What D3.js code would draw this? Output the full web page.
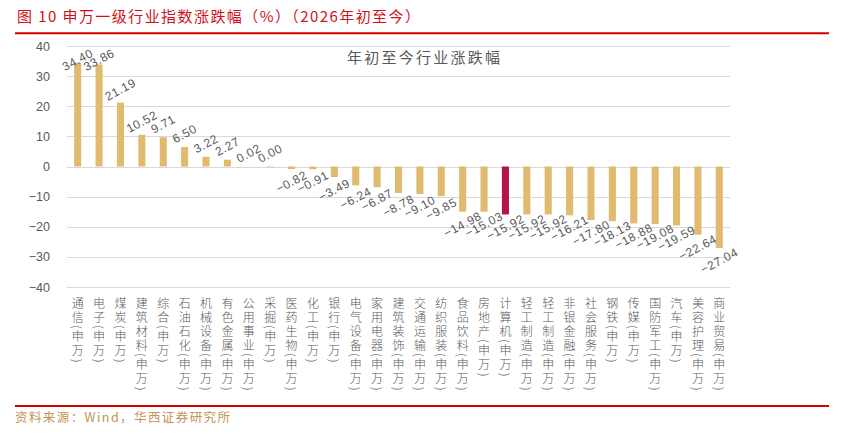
<!DOCTYPE html>
<html><head><meta charset="utf-8">
<script src="https://cdn.jsdelivr.net/npm/d3@7"></script>
<style>
body{margin:0;background:#fff;}
svg{display:block;}
</style></head>
<body>
<svg id="c" width="850" height="434"></svg>
<script>
const categories = ["通信","电子","煤炭","建筑材料","综合","石油石化","机械设备","有色金属","公用事业","采掘","医药生物","化工","银行","电气设备","家用电器","建筑装饰","交通运输","纺织服装","食品饮料","房地产","计算机","轻工制造","轻工制造","非银金融","社会服务","钢铁","传媒","国防军工","汽车","美容护理","商业贸易"];
const values = [34.40,33.86,21.19,10.52,9.71,6.50,3.22,2.27,0.02,0.00,-0.82,-0.91,-3.49,-6.24,-6.87,-8.78,-9.10,-9.85,-14.98,-15.03,-15.92,-15.92,-15.92,-16.21,-17.80,-18.13,-18.88,-19.08,-19.59,-22.64,-27.04];
const highlight = ["计算机"];
const yTicks = [40,30,20,10,0,-10,-20,-30,-40];
const titleText = "图 10 申万一级行业指数涨跌幅（%）（2026年初至今）";
const chartTitle = "年初至今行业涨跌幅";
const sourceText = "资料来源：Wind，华西证券研究所";
const suffix = "(申万)";

const svg = d3.select("#c");
const L = 67, R = 730, T = 46, B = 287;
const x = d3.scaleBand().domain(d3.range(categories.length)).range([L, R]).paddingInner(0.67).paddingOuter(0.335);
const y = d3.scaleLinear().domain([-40, 40]).range([B, T]);
const gold = "#E0BB6F", crimson = "#B3124A", grey = "#595959";
const fmtNum = (d, p) => (d < 0 ? "\u2212" : "") + Math.abs(d).toFixed(p);

// header
svg.append("text").attr("x", 17).attr("y", 22).attr("fill", "#D0101A")
  .attr("font-family", "'Noto Sans CJK SC'").attr("font-size", 15)
  .attr("textLength", 403).attr("lengthAdjust", "spacing").text(titleText);
svg.append("line").attr("x1", 15).attr("x2", 829).attr("y1", 33.3).attr("y2", 33.3)
  .attr("stroke", "#D40000").attr("stroke-width", 2);
svg.append("line").attr("x1", 15).attr("x2", 829).attr("y1", 406).attr("y2", 406)
  .attr("stroke", "#D40000").attr("stroke-width", 2);
svg.append("text").attr("x", 15).attr("y", 422).attr("fill", "#C39356")
  .attr("font-family", "'Noto Sans CJK SC'").attr("font-size", 12.5)
  .attr("textLength", 215).attr("lengthAdjust", "spacing").text(sourceText);

// gridlines
svg.append("g").selectAll("line").data(yTicks).join("line")
  .attr("x1", L).attr("x2", R).attr("y1", d => Math.round(y(d)) + 0.5).attr("y2", d => Math.round(y(d)) + 0.5)
  .attr("stroke", "#D9D9D9").attr("stroke-width", 1);

// y axis
const ya = svg.append("g").attr("transform", `translate(${L},0)`)
  .call(d3.axisLeft(y).tickValues(yTicks).tickSize(0).tickPadding(17).tickFormat(d => fmtNum(d, 0)));
ya.select(".domain").remove();
ya.selectAll("text").attr("font-family", "Arial, 'Liberation Sans'").attr("font-size", 12.5).attr("fill", grey);

// chart title
svg.append("text").attr("x", 347).attr("y", 63).attr("fill", grey)
  .attr("font-family", "'Noto Sans CJK SC'").attr("font-size", 15)
  .attr("textLength", 153).attr("lengthAdjust", "spacing").text(chartTitle);

// bars
svg.append("g").selectAll("rect").data(values).join("rect")
  .attr("x", (d, i) => x(i)).attr("width", x.bandwidth())
  .attr("y", d => y(Math.max(0, d))).attr("height", d => Math.max(Math.abs(y(d) - y(0)), d === 0 ? 0.6 : 0))
  .attr("fill", (d, i) => highlight.includes(categories[i]) ? crimson : gold);

// value labels
svg.append("g").selectAll("text").data(values).join("text")
  .attr("transform", (d, i) => {
    const cx = x(i) + x.bandwidth() / 2;
    let cy = d >= 0 ? y(d) - 13 : y(d) + 13;
    cy = Math.max(cy, T + 14);
    return `translate(${cx},${cy}) rotate(-28)`;
  })
  .attr("text-anchor", "middle").attr("dominant-baseline", "central")
  .attr("font-family", "Arial, 'Liberation Sans'").attr("font-size", 12).attr("letter-spacing", 0.6)
  .attr("fill", grey).text(d => fmtNum(d, 2));

// category labels (vertical)
svg.append("g").selectAll("text").data(categories).join("text")
  .attr("x", (d, i) => x(i) + x.bandwidth() / 2).attr("y", 297)
  .style("writing-mode", "vertical-rl").style("text-orientation", "mixed")
  .attr("letter-spacing", 2)
  .attr("font-family", "'Noto Sans CJK SC'").attr("font-size", 12).attr("font-weight", 300)
  .attr("fill", grey).text(d => d + suffix);
</script>
</body></html>
